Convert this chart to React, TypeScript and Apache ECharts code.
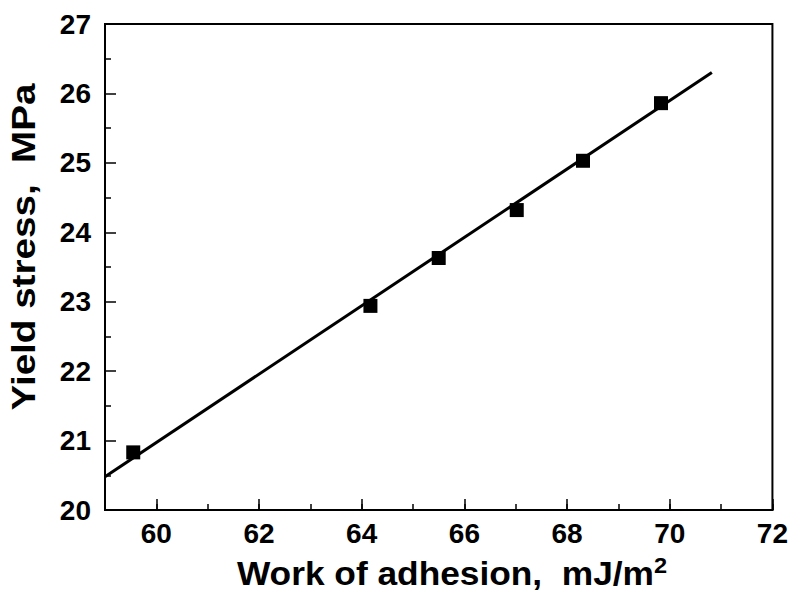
import React, { useEffect, useRef } from "react";
import * as echarts from "echarts";

const workOfAdhesion = [59.55, 64.17, 65.5, 67.02, 68.31, 69.83];
const yieldStress = [20.83, 22.94, 23.63, 24.32, 25.03, 25.86];
const fitLine = [
  [59.0, 20.48],
  [70.82, 26.3],
];
const xTicks = [60, 62, 64, 66, 68, 70, 72];
const yTicks = [20, 21, 22, 23, 24, 25, 26, 27];

const FONT = "'Liberation Sans', Arial, Helvetica, sans-serif";

export default function App() {
  const ref = useRef<HTMLDivElement>(null);
  useEffect(() => {
    if (!ref.current) return;
    const chart = echarts.init(ref.current, undefined, { renderer: "svg" });
    const labelStyle = {
      color: "#000",
      fontFamily: FONT,
      fontWeight: "bold",
      fontSize: 28,
    };
    chart.setOption({
      animation: false,
      backgroundColor: "#fff",
      grid: {
        left: 105,
        top: 24,
        right: 18,
        bottom: 85,
        show: true,
        borderColor: "#000",
        borderWidth: 2,
        backgroundColor: "transparent",
      },
      xAxis: [
        {
          type: "value",
          min: 59,
          max: 72,
          interval: 1,
          position: "bottom",
          axisLine: { show: true, onZero: false, lineStyle: { color: "#000", width: 2 } },
          splitLine: { show: false },
          axisTick: {
            show: true,
            inside: true,
            length: 11,
            customValues: xTicks,
            lineStyle: { color: "#000", width: 1.5 },
          },
          axisLabel: {
            margin: 9,
            ...labelStyle,
            customValues: xTicks,
            formatter: (v: number) => (xTicks.includes(v) ? String(v) : ""),
          },
        },
        {
          type: "value",
          min: 59,
          max: 72,
          interval: 1,
          position: "bottom",
          axisLine: { show: false, onZero: false },
          splitLine: { show: false },
          axisTick: { show: true, inside: true, length: 6, lineStyle: { color: "#000", width: 1.5 } },
          axisLabel: { show: false },
        },
      ],
      yAxis: {
        type: "value",
        min: 20,
        max: 27,
        interval: 1,
        axisLine: { show: true, onZero: false, lineStyle: { color: "#000", width: 2 } },
        splitLine: { show: false },
        minorSplitLine: { show: false },
        axisTick: { show: true, inside: true, length: 11, lineStyle: { color: "#000", width: 1.5 } },
        minorTick: { show: true, splitNumber: 2, length: 6, lineStyle: { color: "#000", width: 1.5 } },
        axisLabel: {
          margin: 14,
          ...labelStyle,
          formatter: (v: number) => (yTicks.includes(v) ? String(v) : ""),
        },
      },
      graphic: [
        {
          type: "text",
          x: 452,
          y: 573,
          scaleX: 1.07,
          style: {
            text: "{a|Work of adhesion,  mJ/m}{s|2}",
            textAlign: "center",
            textVerticalAlign: "middle",
            fill: "#000",
            rich: {
              a: { fontFamily: FONT, fontWeight: "bold", fontSize: 33, fill: "#000" },
              s: { fontFamily: FONT, fontWeight: "bold", fontSize: 22, fill: "#000", verticalAlign: "top", padding: [0, 0, 15, 0] },
            },
          },
        },
        {
          type: "text",
          x: 24,
          y: 247,
          rotation: Math.PI / 2,
          scaleX: 1.17,
          style: {
            text: "Yield stress,  MPa",
            textAlign: "center",
            textVerticalAlign: "middle",
            fill: "#000",
            font: `bold 33px ${FONT}`,
          },
        },
      ],
      series: [
        {
          type: "line",
          data: fitLine,
          showSymbol: false,
          symbol: "none",
          lineStyle: { color: "#000", width: 3 },
          silent: true,
          z: 2,
        },
        {
          type: "scatter",
          data: workOfAdhesion.map((x, i) => [x, yieldStress[i]]),
          symbol: "rect",
          symbolSize: 14,
          itemStyle: { color: "#000", opacity: 1 },
          z: 3,
        },
      ],
    });
    return () => chart.dispose();
  }, []);
  return (
    <div
      ref={ref}
      style={{ position: "fixed", left: 0, top: 0, width: 791, height: 595 }}
    />
  );
}
